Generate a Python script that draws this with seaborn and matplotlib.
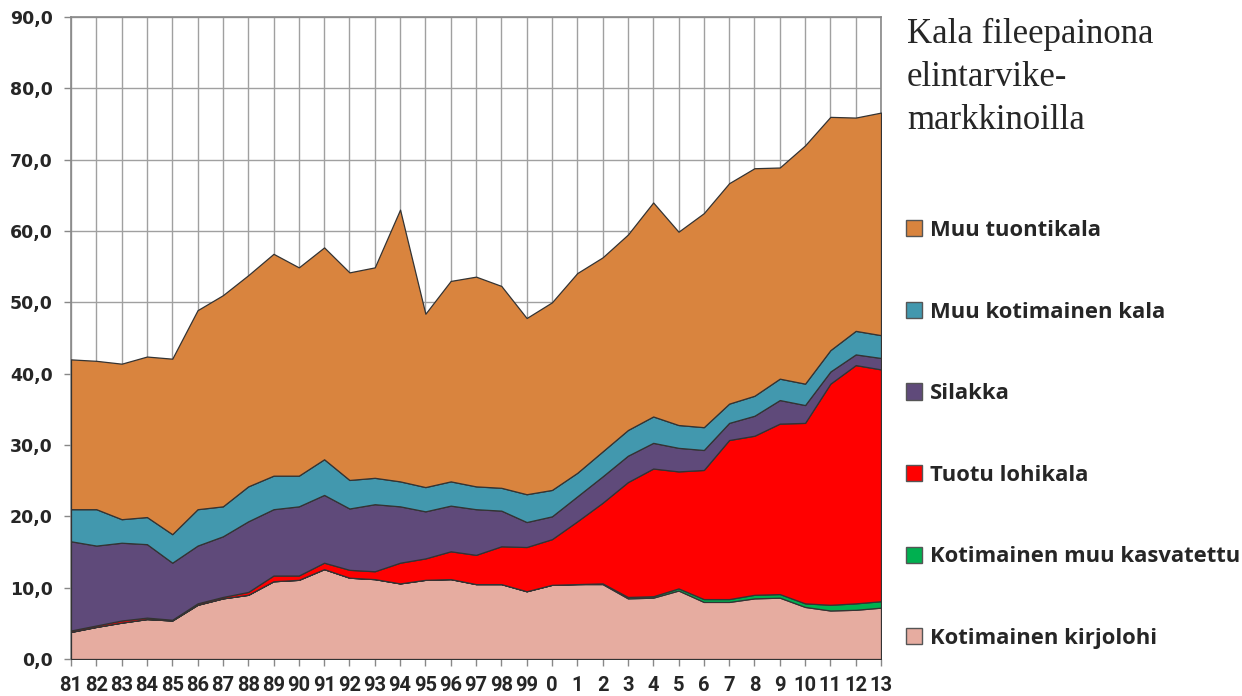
import matplotlib
matplotlib.use("Agg")
import matplotlib.pyplot as plt
from matplotlib.patches import Patch
import numpy as np
import seaborn as sns

years = ["81", "82", "83", "84", "85", "86", "87", "88", "89", "90", "91", "92", "93", "94",
         "95", "96", "97", "98", "99", "0", "1", "2", "3", "4", "5", "6", "7", "8", "9",
         "10", "11", "12", "13"]

kotimainen_kirjolohi = [3.8, 4.5, 5.1, 5.6, 5.4, 7.6, 8.5, 9.0, 10.9, 11.1, 12.6, 11.4, 11.2, 10.6,
                        11.1, 11.2, 10.5, 10.5, 9.5, 10.4, 10.5, 10.5, 8.5, 8.6, 9.6, 8.0, 8.0, 8.5,
                        8.6, 7.3, 6.8, 6.9, 7.2]
kotimainen_muu_kasvatettu = [0, 0, 0, 0, 0, 0, 0, 0, 0, 0, 0, 0, 0, 0, 0, 0, 0, 0, 0, 0, 0,
                             0.1, 0.2, 0.2, 0.3, 0.4, 0.4, 0.5, 0.5, 0.5, 0.8, 0.9, 0.9]
tuotu_lohikala = [0.2, 0.2, 0.3, 0.2, 0.1, 0.2, 0.2, 0.4, 0.8, 0.6, 0.9, 1.1, 1.1, 2.9, 3.0, 3.9,
                  4.1, 5.3, 6.2, 6.4, 8.8, 11.3, 16.1, 17.9, 16.4, 18.1, 22.3, 22.3, 23.9, 25.3,
                  31.0, 33.4, 32.5]
silakka = [12.5, 11.2, 10.9, 10.3, 8.0, 8.1, 8.5, 9.9, 9.3, 9.7, 9.5, 8.6, 9.4, 7.9, 6.6, 6.4,
           6.4, 5.0, 3.5, 3.2, 3.5, 3.7, 3.7, 3.6, 3.3, 2.8, 2.4, 2.8, 3.3, 2.5, 1.7, 1.5, 1.6]
muu_kotimainen_kala = [4.5, 5.1, 3.3, 3.8, 4.0, 5.1, 4.2, 4.9, 4.7, 4.3, 5.0, 4.0, 3.7, 3.5, 3.4,
                       3.4, 3.2, 3.2, 3.9, 3.7, 3.3, 3.5, 3.6, 3.7, 3.2, 3.2, 2.7, 2.8, 3.0, 3.0,
                       3.0, 3.3, 3.2]
muu_tuontikala = [21.0, 20.8, 21.8, 22.5, 24.6, 27.9, 29.6, 29.6, 31.1, 29.2, 29.7, 29.1, 29.5,
                  38.1, 24.3, 28.1, 29.4, 28.3, 24.7, 26.3, 28.0, 27.2, 27.4, 30.0, 27.1, 30.0,
                  30.9, 31.9, 29.6, 33.4, 32.7, 29.9, 31.2]

series_names = ["Kotimainen kirjolohi", "Kotimainen muu kasvatettu", "Tuotu lohikala",
                "Silakka", "Muu kotimainen kala", "Muu tuontikala"]
series_values = [kotimainen_kirjolohi, kotimainen_muu_kasvatettu, tuotu_lohikala,
                 silakka, muu_kotimainen_kala, muu_tuontikala]
colors = ["#E6ACA0", "#00B050", "#FF0000", "#5F4A7A", "#4298AE", "#D9843E"]

y_ticks = [0, 10, 20, 30, 40, 50, 60, 70, 80, 90]
title_text = "Kala fileepainona\nelintarvike-\nmarkkinoilla"

sns.set_theme(style="white")
plt.rcParams["font.family"] = ["Open Sans", "DejaVu Sans"]

fig = plt.figure(figsize=(12.42, 6.96), dpi=100)
ax = fig.add_axes([71 / 1242, 1 - 659 / 696, (881 - 71) / 1242, (659 - 17) / 696])

x = np.arange(len(years))
ax.stackplot(x, *series_values, colors=colors, edgecolor="#333333", linewidth=0.9, zorder=3)

ax.set_xlim(0, len(years) - 1)
ax.set_ylim(0, 90)
ax.set_xticks(x)
ax.set_xticklabels(years, fontsize=14.5, fontweight="bold", family="Roboto")
ax.set_yticks(y_ticks)
ax.set_yticklabels([f"{v:.1f}".replace(".", ",") for v in y_ticks], fontsize=12.5,
                   fontweight="bold", family="DejaVu Sans")

ax.grid(True, which="major", axis="both", color="#A0A0A0", linewidth=1.0, zorder=0)
ax.set_axisbelow(True)
for side in ["top", "right", "left", "bottom"]:
    ax.spines[side].set_color("#888888")
    ax.spines[side].set_linewidth(1.2)
ax.tick_params(axis="both", which="major", direction="out", length=5, width=1,
               color="#888888", bottom=True, left=True)
ax.tick_params(axis="y", pad=8)
ax.tick_params(axis="x", pad=7)

fig.text(907 / 1242, 1 - 18 / 696, title_text, fontsize=25, family="Liberation Serif",
         va="top", ha="left", linespacing=1.4)

handles = [Patch(facecolor=c, edgecolor="#555555", linewidth=1.0) for c in colors][::-1]
labels = series_names[::-1]
fig.legend(handles, labels, loc="upper left", bbox_to_anchor=(906 / 1242, 1 - 220 / 696),
           frameon=False, prop={"family": "Open Sans", "weight": "bold", "size": 15.8},
           handlelength=0.75, handleheight=0.75, handletextpad=0.35, labelspacing=2.76,
           borderaxespad=0, borderpad=0)

fig.savefig("out.png", dpi=100)
